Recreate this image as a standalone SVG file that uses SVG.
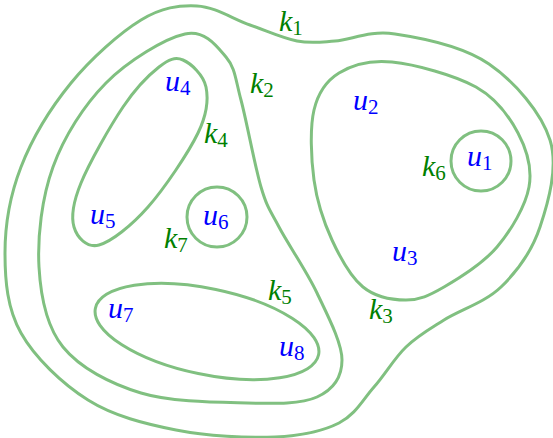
<svg xmlns="http://www.w3.org/2000/svg" width="553" height="438" viewBox="0 0 553 438">
<style>
.e{fill:none;stroke:#80c080;stroke-width:3}
.k{font-family:"Liberation Serif",serif;font-style:italic;font-size:30px;fill:#008000}
.u{font-family:"Liberation Serif",serif;font-style:italic;font-size:30px;fill:#0000ff}
.s{font-style:normal;font-size:21px}
</style>
<rect width="553" height="438" fill="#fff"/>
<g id="edges">
<g id="k1"><path class="e" d="M197,6 C215.2,6.8 233.3,19.2 250,25 S282.8,38.3 297,41 S318.7,42.2 335,41 S369.3,30.2 395,34 S463.2,46.3 489,64 S541.5,112.8 550,140 S548.2,202.5 540,227 S517,271.5 501,287 S459.8,310 444,320 S417.7,335.8 406,347 S385.2,374.3 374,387 S355.5,414.7 339,423 S302.2,435.8 275,437 S207.2,436.2 176,430 S113.8,416.2 88,400 S34.8,357.5 21,333 S5,280.7 5,253 S10,195.3 21,167 S51,107.5 71,83 S120,32.8 141,20 S178.8,5.2 197,6 Z"/><text class="k" x="279" y="31">k<tspan class="s" dy="4">1</tspan></text></g>
<g id="k2"><path class="e" d="M185,34 C205,29.7 216.7,46 226,57 S235.2,78.3 241,100 S254.7,165.8 261,187 S269.7,209.3 279,227 S306.5,270.8 317,293 S342,342.7 342,360 S332.8,389.8 317,397 S276.3,403.7 247,403 S171.7,402.3 141,393 S80,368 63,347 S40.7,297 39,267 S41.8,197.7 53,167 S84,105.2 106,83 S165,38.3 185,34 Z"/><text class="k" x="250" y="93">k<tspan class="s" dy="4">2</tspan></text></g>
<g id="k3"><path class="e" d="M392,62 C414.8,64.3 455,75.2 476,87 S509.2,116.3 518,133 S532.5,168 529,187 S511.2,230.3 497,247 S459.2,278.2 444,287 S419.5,300 406,300 S375.3,297 363,287 S340.2,257.8 332,240 S317,201.7 314,180 S309.8,127.8 314,110 S326,81 339,73 S369.2,59.7 392,62 Z"/><text class="k" x="369" y="319">k<tspan class="s" dy="4">3</tspan></text></g>
<g id="k4"><path class="e" d="M183,60 C190.8,63.3 203.5,74.8 206,87 S207.7,113 198,133 S164.5,188.3 148,207 S111.3,241.7 99,245 S77,237.3 74,227 S72.8,203 81,183 S110,126.3 123,107 S149,74.8 159,67 S175.2,56.7 183,60 Z"/><text class="k" x="204" y="143">k<tspan class="s" dy="4">4</tspan></text></g>
<g id="k5"><ellipse class="e" cx="207" cy="331.5" rx="114" ry="43" transform="rotate(11.8 207 331.5)"/><text class="k" x="268" y="300">k<tspan class="s" dy="4">5</tspan></text></g>
<g id="k6"><circle class="e" cx="481" cy="161" r="30"/><text class="k" x="422" y="176">k<tspan class="s" dy="4">6</tspan></text></g>
<g id="k7"><circle class="e" cx="217" cy="217" r="30"/><text class="k" x="164" y="248">k<tspan class="s" dy="4">7</tspan></text></g>
</g>
<g id="nodes">
<text id="u1" class="u" x="467" y="166">u<tspan class="s" dy="4">1</tspan></text>
<text id="u2" class="u" x="353" y="110">u<tspan class="s" dy="4">2</tspan></text>
<text id="u3" class="u" x="392" y="261">u<tspan class="s" dy="4">3</tspan></text>
<text id="u4" class="u" x="165" y="91">u<tspan class="s" dy="4">4</tspan></text>
<text id="u5" class="u" x="90" y="224">u<tspan class="s" dy="4">5</tspan></text>
<text id="u6" class="u" x="203" y="225">u<tspan class="s" dy="4">6</tspan></text>
<text id="u7" class="u" x="108" y="318">u<tspan class="s" dy="4">7</tspan></text>
<text id="u8" class="u" x="279" y="356">u<tspan class="s" dy="4">8</tspan></text>
</g>
</svg>
